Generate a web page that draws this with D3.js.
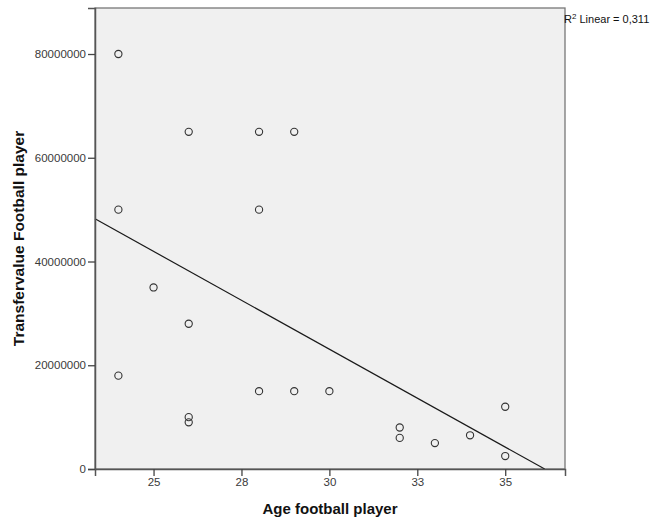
<!DOCTYPE html>
<html>
<head>
<meta charset="utf-8">
<script src="https://cdn.jsdelivr.net/npm/d3@7/dist/d3.min.js"></script>
<style>
  html, body { margin: 0; padding: 0; background: #ffffff; }
  svg { display: block; }
  text { font-family: Arial, "Liberation Sans", sans-serif; }
</style>
</head>
<body>
<svg id="chart" width="661" height="517"></svg>
<script>
// Player ages and transfer values (euros)
const ages = [24, 26, 28, 29, 24, 28, 25, 26, 24, 28, 29, 30, 26, 26, 32, 32, 33, 34, 35, 35];
const transferValues = [80000000, 65000000, 65000000, 65000000, 50000000, 50000000, 35000000, 28000000,
  18000000, 15000000, 15000000, 15000000, 10000000, 9000000, 8000000, 6000000, 5000000, 6500000,
  12000000, 2500000];

// Axis ticks and their printed labels
const xTickValues = [25, 27.5, 30, 32.5, 35];
const xTickLabels = ["25", "28", "30", "33", "35"];
const yTickValues = [0, 20000000, 40000000, 60000000, 80000000];
const yTickLabels = ["0", "20000000", "40000000", "60000000", "80000000"];

const xTitle = "Age football player";
const yTitle = "Transfervalue Football player";

const svg = d3.select("#chart");
const plot = { left: 95, top: 8, right: 565, bottom: 469 };

const x = d3.scaleLinear().domain([23.335, 36.7]).range([plot.left, plot.right]);
const y = d3.scaleLinear().domain([0, 88.87e6]).range([plot.bottom, plot.top]);

// Plot background
svg.append("rect")
  .attr("x", plot.left).attr("y", plot.top)
  .attr("width", plot.right - plot.left).attr("height", plot.bottom - plot.top)
  .attr("fill", "#f0f0f0")
  .attr("stroke", "#777")
  .attr("stroke-width", 1.3);

// Least-squares fit
const n = ages.length;
const mx = d3.mean(ages), my = d3.mean(transferValues);
let sxy = 0, sxx = 0, syy = 0;
for (let i = 0; i < n; i++) {
  const dx = ages[i] - mx, dy = transferValues[i] - my;
  sxy += dx * dy; sxx += dx * dx; syy += dy * dy;
}
const slope = sxy / sxx;
const intercept = my - slope * mx;
const r2 = (sxy * sxy) / (sxx * syy);

const [xa, xb] = x.domain();
let lineStart = xa, lineEnd = xb;
const xAtZero = -intercept / slope;
if (slope < 0 && xAtZero < lineEnd) lineEnd = xAtZero;
const yAtStart = intercept + slope * lineStart;
if (yAtStart > y.domain()[1]) lineStart = (y.domain()[1] - intercept) / slope;

svg.append("line")
  .attr("x1", x(lineStart)).attr("y1", y(intercept + slope * lineStart))
  .attr("x2", x(lineEnd)).attr("y2", y(intercept + slope * lineEnd))
  .attr("stroke", "#1a1a1a")
  .attr("stroke-width", 1.2);

// Axes
const xAxis = d3.axisBottom(x)
  .tickValues(xTickValues)
  .tickFormat((d, i) => xTickLabels[i])
  .tickSizeOuter(0)
  .tickSize(7)
  .tickPadding(2);
const gx = svg.append("g")
  .attr("transform", `translate(0,${plot.bottom})`)
  .call(xAxis);

const yAxis = d3.axisLeft(y)
  .tickValues(yTickValues)
  .tickFormat((d, i) => yTickLabels[i])
  .tickSizeOuter(0)
  .tickSize(7)
  .tickPadding(2);
const gy = svg.append("g")
  .attr("transform", `translate(${plot.left},0)`)
  .call(yAxis);

[gx, gy].forEach(g => {
  g.select(".domain").attr("stroke", "#555").attr("stroke-width", 1.5);
  g.selectAll(".tick line").attr("stroke", "#444").attr("stroke-width", 1.3);
  g.selectAll(".tick text")
    .attr("fill", "#3a3a3a")
    .style("font-size", "11.5px")
    .style("font-family", "Arial, 'Liberation Sans', sans-serif");
});

// Data points
svg.append("g")
  .selectAll("circle")
  .data(ages.map((a, i) => ({ age: a, value: transferValues[i] })))
  .join("circle")
  .attr("cx", d => x(d.age))
  .attr("cy", d => y(d.value))
  .attr("r", 3.6)
  .attr("fill", "none")
  .attr("stroke", "#333")
  .attr("stroke-width", 1.1);

// Axis titles
svg.append("text")
  .attr("x", (plot.left + plot.right) / 2)
  .attr("y", 514)
  .attr("text-anchor", "middle")
  .style("font-size", "15px")
  .style("font-weight", "bold")
  .attr("fill", "#111")
  .text(xTitle);

svg.append("text")
  .attr("transform", `translate(24,${(plot.top + plot.bottom) / 2}) rotate(-90)`)
  .attr("text-anchor", "middle")
  .style("font-size", "15.5px")
  .style("font-weight", "bold")
  .attr("fill", "#111")
  .text(yTitle);

// R-squared note
const r2Label = svg.append("text")
  .attr("x", plot.right - 1)
  .attr("y", 23)
  .style("font-size", "11px")
  .attr("fill", "#111");
r2Label.append("tspan").text("R");
r2Label.append("tspan").attr("dy", -4).style("font-size", "8px").text("2");
r2Label.append("tspan").attr("dy", 4).text(" Linear = " + d3.format(".3f")(r2).replace(".", ","));
</script>
</body>
</html>
